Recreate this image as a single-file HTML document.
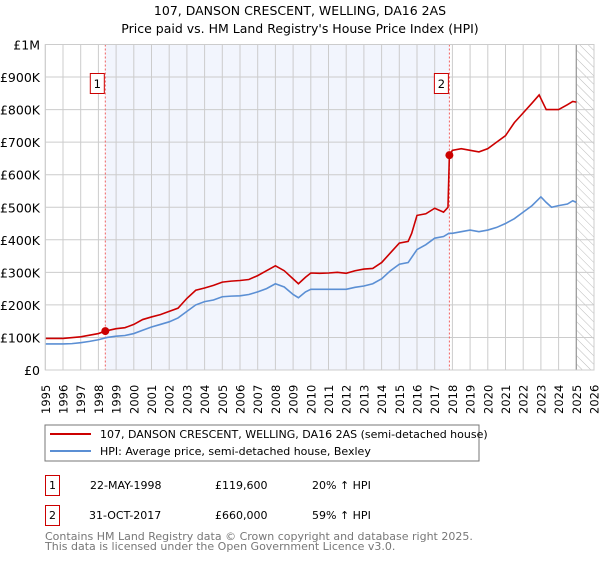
<!DOCTYPE html>
<html><head><meta charset="utf-8"><style>
body{margin:0;background:#fff;font-family:"DejaVu Sans","Liberation Sans",sans-serif;}
svg text{font-family:"DejaVu Sans","Liberation Sans",sans-serif;}
</style></head><body>
<svg id="c" width="600" height="560" viewBox="0 0 600 560" xmlns="http://www.w3.org/2000/svg">
<defs><pattern id="h" width="6" height="6" patternUnits="userSpaceOnUse" patternTransform="rotate(-45)"><line x1="0" y1="0" x2="0" y2="6" stroke="#bbb" stroke-width="1"/></pattern></defs>
<text x="300" y="15" text-anchor="middle" font-size="12.5">107, DANSON CRESCENT, WELLING, DA16 2AS</text>
<text x="300" y="33" text-anchor="middle" font-size="12.5">Price paid vs. HM Land Registry's House Price Index (HPI)</text>
<g id="plot"></g>
<rect x="45" y="425" width="434" height="36" fill="#fff" stroke="#777"/>
<line x1="50" y1="434" x2="91" y2="434" stroke="#cc0000" stroke-width="2"/>
<text x="100" y="438" font-size="11">107, DANSON CRESCENT, WELLING, DA16 2AS (semi-detached house)</text>
<line x1="50" y1="451" x2="91" y2="451" stroke="#5b8fd4" stroke-width="2"/>
<text x="100" y="455" font-size="11">HPI: Average price, semi-detached house, Bexley</text>
<g font-size="11">
<rect x="45.5" y="475.5" width="14" height="20" fill="#fff" stroke="#cc0000"/>
<text x="52.5" y="489" text-anchor="middle">1</text>
<text x="90" y="489">22-MAY-1998</text>
<text x="215" y="489">£119,600</text>
<text x="312" y="489">20% ↑ HPI</text>
<rect x="45.5" y="505.5" width="14" height="20" fill="#fff" stroke="#cc0000"/>
<text x="52.5" y="519" text-anchor="middle">2</text>
<text x="89" y="519">31-OCT-2017</text>
<text x="215" y="519">£660,000</text>
<text x="312" y="519">59% ↑ HPI</text>
</g>
<text x="45" y="540" font-size="11" fill="#777">Contains HM Land Registry data © Crown copyright and database right 2025.</text>
<text x="45" y="550" font-size="11" fill="#777">This data is licensed under the Open Government Licence v3.0.</text>
</svg>
<script>
const hpiYears=[1995,1995.5,1996,1996.5,1997,1997.5,1998,1998.5,1999,1999.5,2000,2000.5,2001,2001.5,2002,2002.5,2003,2003.5,2004,2004.5,2005,2005.5,2006,2006.5,2007,2007.5,2008,2008.5,2009,2009.3,2009.7,2010,2010.5,2011,2011.5,2012,2012.5,2013,2013.5,2014,2014.5,2015,2015.5,2016,2016.5,2017,2017.5,2017.8,2018,2018.5,2019,2019.5,2020,2020.5,2021,2021.5,2022,2022.5,2023,2023.3,2023.6,2024,2024.5,2024.8,2025];
const hpiValues=[80,80,80,81,84,88,93,100,104,106,112,122,132,140,148,160,180,200,210,215,225,227,228,232,240,250,265,255,232,222,240,248,248,248,248,248,254,258,265,280,305,325,330,370,385,405,410,420,420,425,430,425,430,438,450,465,485,505,532,515,500,505,510,520,515];
const propYears=[1995,1996,1997,1998,1998.39,1999,1999.5,2000,2000.5,2001,2001.5,2002,2002.5,2003,2003.5,2004,2004.5,2005,2005.5,2006,2006.5,2007,2007.5,2008,2008.5,2009,2009.3,2009.7,2010,2010.5,2011,2011.5,2012,2012.5,2013,2013.5,2014,2014.5,2015,2015.5,2015.7,2016,2016.5,2017,2017.5,2017.75,2017.83,2018,2018.5,2019,2019.5,2020,2020.5,2021,2021.5,2022,2022.5,2022.9,2023.3,2023.6,2024,2024.5,2024.8,2025];
const propValues=[97,97,102,112,119.6,127,130,140,155,163,170,180,190,220,245,252,260,270,273,275,278,290,305,320,305,280,265,285,298,297,298,300,297,305,310,312,330,360,390,395,420,475,480,497,485,500,660,675,680,675,670,680,700,720,760,790,820,845,800,800,800,815,825,823];
const saleYears=[1998.39,2017.83];
const saleValues=[119.6,660];
const saleLabels=["1","2"];
const yTicks=[0,100,200,300,400,500,600,700,800,900,1000];
const yTickLabels=["£0","£100K","£200K","£300K","£400K","£500K","£600K","£700K","£800K","£900K","£1M"];
const xTicks=[];for(let y=1995;y<=2026;y++)xTicks.push(y);

const X0=45.3,X1=594,Y0=370,Y1=44.5,YR0=1995,YR1=2026;
const xs=v=>X0+(v-YR0)/(YR1-YR0)*(X1-X0);
const ys=v=>Y0-v/1000*(Y0-Y1);
const NS="http://www.w3.org/2000/svg";
const g=document.getElementById('plot');
function mk(t,a,p){const e=document.createElementNS(NS,t);for(const k in a)e.setAttribute(k,a[k]);(p||g).appendChild(e);return e;}
const shade=mk('rect',{x:xs(saleYears[0]),y:Y1,width:xs(saleYears[1])-xs(saleYears[0]),height:Y0-Y1,fill:'#f2f5fd'});


const hatch=mk('rect',{x:xs(2025),y:Y1,width:X1-xs(2025),height:Y0-Y1,fill:'url(#h)'});


yTicks.forEach((t,i)=>{
 const l=mk('line',{x1:X0,x2:X1,y1:ys(t),y2:ys(t),stroke:'#ccc','stroke-width':1});
 
 
 const tx=mk('text',{x:40,y:ys(t)+5,'text-anchor':'end','font-size':12.5});
 tx.textContent=yTickLabels[i];
 
 
});
xTicks.forEach(t=>{
 const l=mk('line',{x1:xs(t),x2:xs(t),y1:Y1,y2:Y0,stroke:'#ccc','stroke-width':1});
 
 
 const tx=mk('text',{x:0,y:0,'font-size':11.5,transform:`translate(${xs(t)+4.5},414) rotate(-90)`});
 tx.textContent=t;
 
 
});
const cut=mk('line',{x1:xs(2025),x2:xs(2025),y1:Y1,y2:Y0,stroke:'#999','stroke-width':1.2});


saleYears.forEach((s,i)=>{
 const l=mk('line',{x1:xs(s),x2:xs(s),y1:Y1,y2:Y0,stroke:'#f06060','stroke-width':1,'stroke-dasharray':'2,2'});
 
 
 const b=mk('rect',{x:xs(s)-15,y:73.5,width:14,height:20,fill:'#fff',stroke:'#cc0000'});
 
 
 const t=mk('text',{x:xs(s)-8,y:88,'text-anchor':'middle','font-size':11.5});
 t.textContent=saleLabels[i];
 
 
});
const hp=mk('polyline',{points:hpiYears.map((y,i)=>xs(y)+','+ys(hpiValues[i])).join(' '),fill:'none',stroke:'#5b8fd4','stroke-width':1.6});


const pp=mk('polyline',{points:propYears.map((y,i)=>xs(y)+','+ys(propValues[i])).join(' '),fill:'none',stroke:'#cc0000','stroke-width':1.6});


saleYears.forEach((s,i)=>{
 const c=mk('circle',{cx:xs(s),cy:ys(saleValues[i]),r:4,fill:'#cc0000'});
 
 
});
const fr=mk('rect',{x:X0,y:Y1,width:X1-X0,height:Y0-Y1,fill:'none',stroke:'#ccc'});


</script>
</body></html>
